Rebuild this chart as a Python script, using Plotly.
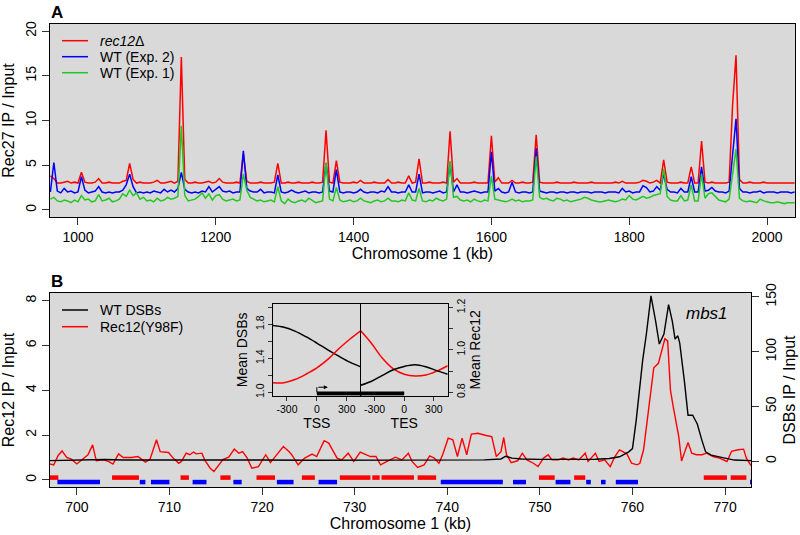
import plotly.graph_objects as go

FONT = "Liberation Sans, Arial, Helvetica, sans-serif"
W, H = 800, 535
BG = "#d9d9d9"

# ---------------- Panel A data (Rec27 IP / Input, 5 kb bins) ----------------
kb_a = list(range(960, 2045, 5))
red_a = [
    3.8, 3.5, 3.0, 3.0, 3.1, 3.2, 3.0, 3.1, 3.0, 4.2, 3.1, 3.0, 3.0, 3.1, 3.5, 3.0, 3.0, 3.1, 3.0, 3.0,
    3.0, 3.2, 3.3, 5.2, 3.4, 3.0, 3.1, 3.0, 3.0, 3.0, 3.1, 3.3, 3.0, 3.0, 3.1, 3.2, 3.0, 3.2, 17.1, 3.4,
    3.0, 3.0, 3.1, 3.0, 3.0, 3.1, 3.2, 3.0, 3.1, 3.5, 3.1, 3.0, 3.0, 3.0, 3.1, 3.0, 6.3, 3.2, 3.0, 3.0,
    3.0, 3.1, 3.0, 3.0, 3.0, 3.1, 5.2, 3.0, 3.0, 3.1, 3.0, 3.0, 3.1, 3.0, 3.0, 3.0, 3.1, 3.0, 3.0, 3.1,
    8.9, 3.1, 3.0, 5.5, 3.1, 3.0, 3.0, 3.0, 3.1, 3.0, 3.3, 3.0, 3.0, 3.0, 3.1, 3.0, 3.0, 3.0, 3.4, 3.0,
    3.0, 3.1, 3.0, 3.0, 3.8, 3.0, 3.1, 5.7, 3.0, 3.0, 3.1, 3.0, 3.0, 3.0, 3.1, 3.0, 8.8, 3.1, 3.5, 3.0,
    3.0, 3.0, 3.0, 3.1, 3.0, 3.0, 3.0, 3.0, 8.3, 3.1, 3.6, 3.0, 3.0, 3.0, 3.3, 3.0, 3.0, 3.1, 3.0, 3.0,
    3.1, 8.4, 3.1, 3.0, 3.0, 3.0, 3.0, 3.1, 3.0, 3.0, 3.0, 3.0, 3.1, 3.0, 3.0, 3.0, 3.0, 3.1, 3.0, 3.0,
    3.0, 3.0, 3.0, 3.0, 3.1, 3.0, 3.2, 3.0, 3.0, 3.0, 3.0, 3.1, 3.3, 3.2, 3.0, 3.1, 3.3, 3.0, 5.6, 3.1,
    3.0, 3.0, 3.0, 3.1, 3.0, 3.0, 4.8, 3.0, 3.0, 7.7, 3.1, 3.0, 3.1, 3.0, 3.0, 3.0, 3.0, 3.1, 11.7, 17.3,
    3.4, 3.0, 3.0, 3.1, 3.0, 3.0, 3.0, 3.1, 3.0, 3.0, 3.0, 3.0, 3.0, 3.0, 3.0, 3.0, 3.0,
]
blue_a = [
    2.0, 5.3, 2.1, 1.9, 2.4, 2.0, 2.1, 1.9, 2.0, 3.7, 2.2, 1.9, 2.0, 2.1, 2.6, 2.0, 1.9, 2.0, 1.9, 2.0,
    2.0, 2.2, 2.8, 4.0, 2.6, 1.9, 2.0, 1.9, 2.0, 1.9, 2.1, 2.0, 1.9, 2.3, 2.0, 2.2, 2.0, 2.4, 4.2, 2.3,
    2.0, 1.9, 2.0, 1.9, 2.1, 2.0, 2.6, 2.0, 2.3, 2.6, 2.1, 2.0, 2.1, 1.9, 2.0, 2.0, 6.6, 2.4, 2.1, 2.0,
    2.0, 2.3, 1.9, 2.0, 2.0, 1.9, 3.9, 2.0, 1.9, 2.0, 2.2, 2.0, 1.9, 2.0, 2.1, 1.9, 2.0, 2.0, 1.9, 2.0,
    5.2, 2.1, 2.0, 4.5, 2.0, 1.9, 2.0, 2.0, 1.9, 2.0, 2.3, 2.0, 1.9, 2.0, 2.0, 1.9, 2.1, 2.0, 2.6, 2.0,
    2.0, 1.9, 2.0, 2.0, 2.8, 2.0, 2.0, 4.0, 1.9, 2.0, 2.0, 1.9, 2.0, 2.1, 1.9, 2.0, 5.3, 2.0, 2.8, 2.0,
    2.0, 1.9, 2.0, 2.1, 2.0, 1.9, 2.0, 2.0, 6.5, 2.1, 2.4, 2.0, 1.9, 2.0, 3.1, 2.0, 1.9, 2.0, 2.0, 1.9,
    2.0, 6.9, 2.1, 2.0, 1.9, 2.0, 2.0, 1.9, 2.0, 2.0, 1.9, 2.0, 2.0, 1.9, 2.0, 2.0, 2.0, 1.9, 2.0, 2.0,
    2.0, 1.9, 2.0, 2.0, 2.0, 1.9, 2.4, 2.0, 2.1, 1.9, 2.0, 2.0, 2.7, 2.5, 2.0, 2.1, 2.6, 2.2, 4.0, 2.3,
    2.0, 2.0, 1.9, 2.4, 2.0, 2.0, 3.7, 2.0, 2.0, 4.8, 2.1, 2.2, 2.5, 2.1, 2.0, 2.0, 1.9, 2.1, 6.0, 10.2,
    2.4, 2.0, 2.0, 1.9, 2.0, 2.0, 2.1, 1.9, 2.0, 2.0, 2.0, 1.9, 2.0, 2.0, 2.0, 1.9, 2.0,
]
green_a = [
    1.2, 1.4, 1.0, 0.9, 1.1, 1.0, 0.8, 1.1, 0.9, 1.6, 1.1, 1.2, 0.9, 1.0, 1.7, 1.0, 1.1, 1.3, 0.9, 1.0,
    1.2, 1.8, 1.5, 2.2, 1.6, 1.9, 1.2, 1.4, 1.0, 1.1, 0.9, 1.3, 1.0, 1.1, 1.4, 1.2, 1.3, 1.5, 9.4, 1.6,
    1.0, 1.1, 1.2, 1.5, 1.9, 1.3, 1.8, 1.1, 1.6, 1.7, 1.2, 1.0, 1.1, 1.2, 1.0, 1.1, 4.0, 2.2, 1.4, 1.2,
    1.0, 1.1, 0.9, 1.0, 1.1, 0.9, 2.6, 1.0, 0.7, 1.2, 0.9, 0.8, 1.0, 1.1, 0.9, 1.3, 1.0, 0.8, 0.9, 1.0,
    5.3, 1.2, 1.0, 2.5, 1.1, 0.9, 1.0, 1.1, 0.9, 1.0, 1.3, 1.0, 0.9, 0.8, 1.0, 1.1, 0.9, 1.0, 1.3, 1.0,
    1.0, 0.9, 1.1, 1.0, 1.9, 1.1, 1.0, 2.4, 1.0, 0.9, 1.1, 1.0, 1.3, 1.1, 1.0, 1.2, 5.5, 1.4, 1.5, 1.1,
    1.0, 1.1, 0.9, 1.2, 1.0, 0.9, 1.1, 1.0, 3.8, 1.2, 1.1, 1.0, 0.9, 1.0, 1.2, 1.0, 1.1, 0.9, 1.0, 1.0,
    1.1, 6.0, 1.4, 1.2, 1.3, 1.1, 1.0, 1.3, 1.2, 1.0, 1.1, 0.9, 1.0, 1.1, 1.2, 1.4, 1.3, 1.1, 1.0, 0.9,
    0.9, 1.0, 1.1, 1.0, 0.9, 1.0, 1.2, 1.1, 1.6, 1.2, 1.1, 1.3, 1.5, 1.3, 1.4, 1.6, 1.7, 1.8, 4.6, 1.5,
    1.1, 1.0, 1.0, 1.6, 1.0, 1.1, 2.8, 1.0, 1.0, 4.0, 1.3, 1.8, 1.9, 1.5, 1.1, 1.0, 0.9, 1.2, 4.0, 6.8,
    1.3, 1.0, 0.9, 1.0, 0.9, 0.8, 1.2, 1.0, 0.9, 0.8, 0.8, 0.9, 0.8, 0.7, 0.8, 0.8, 0.8,
]
a_x_ticks = [1000, 1200, 1400, 1600, 1800, 2000]
a_y_ticks = [0, 5, 10, 15, 20]

# ---------------- Panel B data ----------------
rec12_kb = [
    697.1, 697.5, 698.0, 698.4, 698.9, 699.4, 700.0, 700.7, 701.2, 701.7, 702.1, 702.9, 703.4, 703.9,
    704.5, 705.0, 705.9, 706.6, 707.4, 707.9, 708.6, 709.0, 709.9, 710.4, 711.0, 711.3, 711.8, 712.2,
    712.6, 712.9, 713.5, 713.8, 714.4, 714.8, 715.3, 715.8, 716.4, 717.0, 717.5, 717.9, 718.4, 718.9,
    719.6, 720.4, 720.9, 721.4, 722.3, 722.9, 723.2, 723.9, 724.6, 725.4, 725.9, 726.7, 727.2, 728.1,
    728.6, 729.3, 729.9, 730.6, 731.2, 731.7, 732.3, 732.8, 733.5, 734.4, 735.1, 735.8, 736.2, 736.8,
    737.5, 738.1, 738.6, 739.1, 739.5, 740.1, 740.6, 741.1, 741.6, 742.1, 742.6, 743.3, 744.2, 744.8,
    745.3, 745.8, 746.1, 746.4, 746.9, 747.6, 748.1, 748.6, 749.3, 749.8, 750.4, 750.9, 751.3, 752.0,
    752.5, 753.1, 753.6, 754.2, 754.9, 755.2, 756.0, 756.4, 757.0, 757.6, 758.1, 758.6, 759.4, 759.9,
    760.5, 760.8, 761.2, 761.7, 762.3, 762.8, 763.3, 763.5, 763.8, 764.1, 764.4, 765.0, 765.3, 765.7,
    766.0, 766.4, 766.9, 767.5, 768.0, 768.7, 769.4, 770.2, 770.7, 771.4, 772.0, 772.3, 772.8,
]
rec12_val = [
    0.71, 0.67, 1.10, 1.29, 1.00, 0.92, 0.71, 0.97, 1.12, 1.56, 0.85, 0.89, 0.82, 0.70,
    1.16, 1.00, 1.00, 1.04, 0.79, 0.92, 1.79, 1.26, 1.22, 0.97, 0.74, 0.82, 1.19, 1.12,
    1.24, 1.16, 1.19, 0.89, 0.52, 0.37, 0.67, 0.92, 1.01, 1.37, 1.19, 1.26, 0.97, 0.52,
    0.59, 1.12, 0.77, 1.04, 1.49, 1.26, 1.12, 0.67, 0.97, 1.15, 1.04, 1.75, 1.64, 0.97,
    0.89, 1.19, 0.82, 1.24, 1.12, 1.04, 1.04, 0.67, 0.82, 1.01, 0.89, 1.19, 0.82, 0.55,
    0.67, 1.07, 0.97, 0.74, 1.12, 1.86, 1.79, 1.04, 1.86, 1.12, 2.04, 2.08, 1.98, 1.93,
    1.04, 1.26, 1.89, 1.12, 0.77, 0.85, 1.19, 0.89, 0.74, 0.59, 0.97, 1.12, 0.89, 0.89,
    0.97, 0.89, 0.97, 0.89, 1.19, 0.82, 1.19, 0.82, 0.89, 0.59, 1.04, 1.34, 1.16, 0.74,
    0.67, 0.74, 1.34, 3.13, 5.00, 5.20, 5.95, 6.30, 6.20, 4.00, 3.27, 1.93, 0.84, 1.34,
    1.67, 1.19, 1.12, 1.12, 1.19, 1.04, 0.97, 0.82, 1.27, 1.34, 1.37, 0.97, 0.63,
]
dsb_kb = [
    697.1, 700.0, 703.0, 705.0, 710.0, 715.0, 720.0, 725.0, 730.0, 735.0, 740.0, 744.0, 745.8, 746.3,
    747.0, 748.0, 750.0, 752.0, 754.0, 756.0, 757.5, 758.6, 759.6, 760.0, 760.4, 761.1, 761.5, 762.0,
    762.5, 762.9, 763.4, 763.9, 764.3, 764.6, 764.9, 765.1, 765.6, 766.0, 766.5, 767.0, 767.5, 767.9,
    768.5, 769.6, 771.0, 772.8,
]
dsb_val = [
    0.5, 0.8, 1.5, 1.0, 0.8, 1.2, 1.0, 0.9, 1.0, 1.1, 1.0, 1.2, 2.0, 4.5,
    2.8, 2.0, 1.6, 1.5, 1.7, 1.8, 2.5, 4.0, 8.5, 11.5, 37.0, 92.0, 116.0, 151.0,
    128.0, 107.0, 116.0, 143.0, 128.0, 111.5, 114.5, 108.0, 73.6, 42.0, 42.0, 34.0, 19.0, 8.5,
    5.5, 3.4, 1.0, 0.5,
]
red_track_start = [697.1, 703.8, 711.2, 715.5, 719.4, 724.3, 728.4, 731.9, 732.9, 736.8, 749.9, 753.7, 767.7, 770.6]
red_track_end = [698.0, 706.7, 712.1, 716.6, 721.4, 725.7, 731.7, 732.7, 736.4, 738.8, 751.6, 754.9, 770.2, 772.3]
blue_track_start = [697.9, 706.8, 708.0, 712.5, 716.9, 721.6, 726.1, 739.3, 747.1, 751.7, 755.0, 756.6, 758.2, 772.7]
blue_track_end = [702.5, 707.4, 710.0, 714.0, 717.8, 723.4, 728.1, 746.0, 748.5, 753.3, 755.5, 757.1, 760.6, 773.5]
b_x_ticks = [700, 710, 720, 730, 740, 750, 760, 770]
b_y_ticks = [0, 2, 4, 6, 8]
b_y2_ticks = [0, 50, 100, 150]

# ---------------- Inset (meta-gene) data ----------------
meta_x = [-440, -330, -220, -110, 0, 110, 220, 330, 440]
tss_dsb = [1.786, 1.765, 1.72, 1.655, 1.58, 1.50, 1.425, 1.355, 1.30]
tss_rec12 = [0.845, 0.845, 0.86, 0.885, 0.915, 0.955, 1.005, 1.05, 1.09]
tes_dsb = [1.083, 1.13, 1.20, 1.265, 1.305, 1.324, 1.30, 1.255, 1.213]
tes_rec12 = [1.09, 1.03, 0.96, 0.91, 0.885, 0.877, 0.882, 0.90, 0.925]
inset_x_ticks = [-300, 0, 300]
inset_dsb_ticks = [1.0, 1.2, 1.4, 1.6, 1.8, 2.0]
inset_dsb_labels = ["1.0", "", "1.4", "", "1.8", ""]
inset_rec_ticks = [0.8, 0.9, 1.0, 1.1, 1.2]
inset_rec_labels = ["0.8", "", "1.0", "", "1.2"]
gene_tss_x = [0, 440]
gene_tes_x = [-440, 0]
GENE_Y = 0.985

TRACK_RED_Y = 0.10
TRACK_BLUE_Y = -0.10


def segs(starts, ends, yv):
    xs, ys = [], []
    for s, e in zip(starts, ends):
        xs += [s, e, None]
        ys += [yv, yv, None]
    return xs, ys


def px(x):
    return x / W


def py(y):
    return 1 - y / H


fig = go.Figure()

# Panel A
fig.add_trace(go.Scatter(x=kb_a, y=red_a, mode="lines", line=dict(color="#ff0000", width=1.5),
                         xaxis="x", yaxis="y", name="rec12Δ"))
fig.add_trace(go.Scatter(x=kb_a, y=blue_a, mode="lines", line=dict(color="#0000ff", width=1.5),
                         xaxis="x", yaxis="y", name="WT (Exp. 2)"))
fig.add_trace(go.Scatter(x=kb_a, y=green_a, mode="lines", line=dict(color="#22c822", width=1.5),
                         xaxis="x", yaxis="y", name="WT (Exp. 1)"))

# Panel B
rx, ry = segs(red_track_start, red_track_end, TRACK_RED_Y)
bx, by = segs(blue_track_start, blue_track_end, TRACK_BLUE_Y)
fig.add_trace(go.Scatter(x=rx, y=ry, mode="lines", line=dict(color="#ff0000", width=4.5),
                         xaxis="x2", yaxis="y2", hoverinfo="skip"))
fig.add_trace(go.Scatter(x=bx, y=by, mode="lines", line=dict(color="#0000ff", width=4.5),
                         xaxis="x2", yaxis="y2", hoverinfo="skip"))
fig.add_trace(go.Scatter(x=dsb_kb, y=dsb_val, mode="lines", line=dict(color="#000000", width=1.4),
                         xaxis="x2", yaxis="y3", name="WT DSBs"))
fig.add_trace(go.Scatter(x=rec12_kb, y=rec12_val, mode="lines", line=dict(color="#ff0000", width=1.4),
                         xaxis="x2", yaxis="y2", name="Rec12(Y98F)"))

# Inset
fig.add_trace(go.Scatter(x=meta_x, y=tss_dsb, mode="lines", line=dict(color="black", width=1.5, shape="spline"),
                         xaxis="x3", yaxis="y4"))
fig.add_trace(go.Scatter(x=meta_x, y=tss_rec12, mode="lines", line=dict(color="#ff0000", width=1.5, shape="spline"),
                         xaxis="x3", yaxis="y5"))
fig.add_trace(go.Scatter(x=meta_x, y=tes_rec12, mode="lines", line=dict(color="#ff0000", width=1.5, shape="spline"),
                         xaxis="x4", yaxis="y6"))
fig.add_trace(go.Scatter(x=meta_x, y=tes_dsb, mode="lines", line=dict(color="black", width=1.5, shape="spline"),
                         xaxis="x4", yaxis="y7"))
fig.add_trace(go.Scatter(x=gene_tss_x, y=[GENE_Y, GENE_Y], mode="lines", line=dict(color="black", width=4),
                         xaxis="x3", yaxis="y4", cliponaxis=False))
fig.add_trace(go.Scatter(x=gene_tes_x, y=[GENE_Y, GENE_Y], mode="lines", line=dict(color="black", width=4),
                         xaxis="x4", yaxis="y7", cliponaxis=False))

tickfont = dict(family=FONT, size=14, color="black")
titlefont = dict(family=FONT, size=16, color="black")
small_tick = dict(family=FONT, size=10.5, color="black")
inset_title = dict(family=FONT, size=14, color="black")

common = dict(showline=True, linecolor="black", linewidth=1, mirror=True, ticks="outside",
              ticklen=7, tickwidth=1, tickcolor="#333", showgrid=False, zeroline=False, automargin=False)
inset_common = dict(showline=True, linecolor="black", linewidth=1, mirror=True, ticks="outside",
                    ticklen=4, tickwidth=1, tickcolor="#333", showgrid=False, zeroline=False, automargin=False)

layout = dict(
    width=W, height=H, margin=dict(l=0, r=0, t=0, b=0, autoexpand=False),
    paper_bgcolor="white", plot_bgcolor=BG, showlegend=False,
    font=dict(family=FONT, color="black"),
    xaxis=dict(domain=[px(50), px(795)], anchor="y", range=[959.4, 2040.6], tickvals=a_x_ticks,
               tickfont=tickfont, title=dict(text="Chromosome 1 (kb)", font=titlefont, standoff=4), **common),
    yaxis=dict(domain=[py(217), py(24)], anchor="x", range=[-0.8, 20.8], tickvals=a_y_ticks, tickangle=-90,
               tickfont=tickfont, title=dict(text="Rec27 IP / Input", font=titlefont, standoff=6), **common),
    xaxis2=dict(domain=[px(50), px(751)], anchor="y2", range=[697.1, 772.8], tickvals=b_x_ticks,
                tickfont=tickfont, title=dict(text="Chromosome 1 (kb)", font=titlefont, standoff=4), **common),
    yaxis2=dict(domain=[py(487), py(293)], anchor="x2", range=[-0.32, 8.34], tickvals=b_y_ticks, tickangle=-90,
                tickfont=tickfont, title=dict(text="Rec12 IP / Input", font=titlefont, standoff=6), **common),
    yaxis3=dict(overlaying="y2", anchor="x2", side="right", range=[-23.6, 153.6], tickvals=b_y2_ticks,
                tickangle=-90, tickfont=tickfont,
                title=dict(text="DSBs IP / Input", font=titlefont, standoff=6),
                showline=False, ticks="outside", ticklen=7, tickcolor="#333", showgrid=False, zeroline=False,
                automargin=False),
    xaxis3=dict(domain=[px(273), px(360.7)], anchor="y4", range=[-440, 440], tickvals=inset_x_ticks,
                ticktext=["-300", "0", "300"], tickfont=small_tick,
                title=dict(text="TSS", font=inset_title, standoff=0), **inset_common),
    yaxis4=dict(domain=[py(395.7), py(304)], anchor="x3", range=[0.96, 2.04], tickvals=inset_dsb_ticks,
                ticktext=inset_dsb_labels, tickangle=-90, tickfont=small_tick,
                title=dict(text="Mean DSBs", font=inset_title, standoff=2), **inset_common),
    yaxis5=dict(overlaying="y4", anchor="x3", range=[0.784, 1.216], visible=False),
    xaxis4=dict(domain=[px(360.7), px(447.7)], anchor="y6", range=[-440, 440], tickvals=inset_x_ticks,
                ticktext=["-300", "0", "300"], tickfont=small_tick,
                title=dict(text="TES", font=inset_title, standoff=0), **inset_common),
    yaxis6=dict(domain=[py(395.7), py(304)], anchor="x4", side="right", range=[0.784, 1.216],
                tickvals=inset_rec_ticks, ticktext=inset_rec_labels, tickangle=-90, tickfont=small_tick,
                title=dict(text="Mean Rec12", font=inset_title, standoff=2), **inset_common),
    yaxis7=dict(overlaying="y6", anchor="x4", range=[0.96, 2.04], visible=False),
)
fig.update_layout(**layout)

# Manual legends (R style)
shapes = []
annotations = []
legend_a = [("<i>rec12</i>Δ", "#ff0000", 40.7), ("WT (Exp. 2)", "#0000ff", 56.7), ("WT (Exp. 1)", "#22c822", 72.7)]
legend_b = [("WT DSBs", "#000000", 310), ("Rec12(Y98F)", "#ff0000", 326.7)]
for label, col, yy in legend_a + legend_b:
    shapes.append(dict(type="line", xref="paper", yref="paper", x0=px(62), x1=px(88), y0=py(yy), y1=py(yy),
                       line=dict(color=col, width=1.5)))
    annotations.append(dict(text=label, xref="paper", yref="paper", x=px(98), y=py(yy), xanchor="left",
                            yanchor="middle", showarrow=False, font=dict(family=FONT, size=14, color="black")))

# TSS arrow in inset
shapes.append(dict(type="line", xref="x3", yref="y4", x0=0, x1=0, y0=1.0, y1=1.06,
                   line=dict(color="black", width=1)))
annotations.append(dict(x=110, y=1.06, ax=0, ay=1.06, xref="x3", yref="y4", axref="x3", ayref="y4",
                        showarrow=True, arrowhead=2, arrowsize=0.8, arrowwidth=1, arrowcolor="black", text=""))

annotations += [
    dict(text="<b>A</b>", xref="paper", yref="paper", x=px(57), y=py(12), xanchor="center", yanchor="middle",
         showarrow=False, font=dict(family=FONT, size=17, color="black")),
    dict(text="<b>B</b>", xref="paper", yref="paper", x=px(57), y=py(281), xanchor="center", yanchor="middle",
         showarrow=False, font=dict(family=FONT, size=17, color="black")),
    dict(text="<i>mbs1</i>", xref="paper", yref="paper", x=px(707), y=py(313), xanchor="center",
         yanchor="middle", showarrow=False, font=dict(family=FONT, size=17, color="black")),
]
fig.update_layout(shapes=shapes, annotations=annotations)

fig.write_html("out.html", config={"displayModeBar": False},
               post_script="document.body.style.margin='0';document.body.style.overflow='hidden';")
